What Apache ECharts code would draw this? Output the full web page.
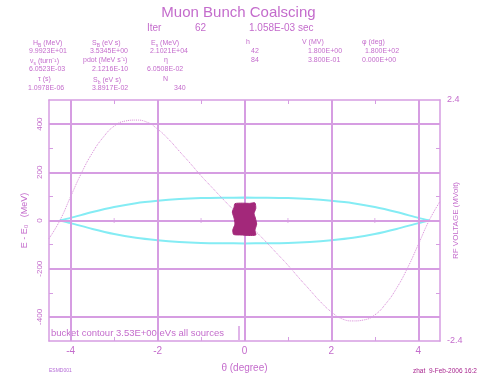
<!DOCTYPE html>
<html>
<head>
<meta charset="utf-8">
<script src="https://cdn.jsdelivr.net/npm/echarts@6/dist/echarts.min.js"></script>
<style>
  html, body { margin: 0; padding: 0; background: #fff; }
  #chart { width: 477px; height: 381px; }
</style>
</head>
<body>
<div id="chart"></div>
<script>
// RF voltage (MV), theta in degrees
var rfTheta = [-4.5, -4.25, -4, -3.75, -3.5, -3.25, -3, -2.75, -2.5, -2.25, -2, -1.75, -1.5, -1.25, -1, -0.75, -0.5, -0.25,
               0, 0.25, 0.5, 0.75, 1, 1.25, 1.5, 1.75, 2, 2.25, 2.5, 2.75, 3, 3.25, 3.5, 3.75, 4, 4.25, 4.5];
var rfVolt = [-0.36, 0, 0.48, 0.95, 1.35, 1.66, 1.88, 1.98, 2.0, 1.96, 1.82, 1.62, 1.38, 1.14, 0.89, 0.66, 0.43, 0.21,
              0, -0.21, -0.43, -0.66, -0.89, -1.14, -1.38, -1.62, -1.82, -1.96, -2.0, -1.98, -1.88, -1.66, -1.35, -0.95, -0.48, 0, 0.38];

// bucket contour (MeV)
var bucketTheta = [-4.25, -4, -3.5, -3, -2.5, -2, -1.5, -1, -0.5, 0, 0.5, 1, 1.5, 2, 2.5, 3, 3.5, 4, 4.25];
var bucketUpper = [0, 11, 35, 56, 72, 82, 89, 93, 94.5, 95, 94.5, 93, 89, 82, 72, 56, 35, 11, 0];
var bucketLower = [0, -11, -35, -56, -72, -82, -89, -93, -94.5, -95, -94.5, -93, -89, -82, -72, -56, -35, -11, 0];

// bunch outline
var bunchTheta = [-0.22, -0.05, 0.12, 0.24, 0.26, 0.22, 0.25, 0.28, 0.24, 0.26, 0.1, -0.08, -0.25, -0.27, -0.22, -0.24, -0.28, -0.24];
var bunchE = [70, 72, 71, 73, 50, 30, 10, -15, -40, -60, -62, -60, -58, -40, -15, 10, 35, 55];

// ticks
var xLabels = [-4, -2, 0, 2, 4];
var xMinor = [-3, -1, 1, 3];
var yLabels = [-400, -200, 0, 200, 400];
var yMinor = [-300, -100, 100, 300];
var rfLabels = [-2.4, 2.4];
var rfMinor = [-1.44, -0.48, 0.48, 1.44];

var txt = '#c46ccc';
var gridCol = '#d69de2';
var font = 'Liberation Sans';

function pairs(xs, ys) {
    return xs.map(function (x, i) { return [x, ys[i]]; });
}

var header = [
    [33, 43, 'H{s|B} (MeV)'], [92, 43, 'S{s|B} (eV s)'], [151, 43, 'E{s|s} (MeV)'], [246, 43, 'h'], [302, 43, 'V (MV)'], [362, 43, 'φ (deg)'],
    [29, 52, '9.9923E+01'], [90, 52, '3.5345E+00'], [150, 52, '2.1021E+04'], [251, 52, '42'], [308, 52, '1.800E+00'], [365, 52, '1.800E+02'],
    [30, 61, 'ν{s|s} (turn⁻¹)'], [83, 61, 'pdot (MeV s⁻¹)'], [164, 61, 'η'], [251, 61, '84'], [308, 61, '3.800E-01'], [362, 61, '0.000E+00'],
    [29, 70, '6.0523E-03'], [92, 70, '2.1216E-10'], [147, 70, '6.0508E-02'],
    [38, 80, 'τ (s)'], [93, 80, 'S{s|b} (eV s)'], [163, 80, 'N'],
    [28, 89, '1.0978E-06'], [92, 89, '3.8917E-02'], [174, 89, '340']
];

var graphics = [
    { type: 'text', left: 'center', top: 5, style: { text: 'Muon Bunch Coalscing', fill: txt, font: '15px ' + font } },
    { type: 'text', x: 147, y: 23, style: { text: 'Iter', fill: txt, font: '10px ' + font } },
    { type: 'text', x: 195, y: 23, style: { text: '62', fill: txt, font: '10px ' + font } },
    { type: 'text', x: 249, y: 23, style: { text: '1.058E-03 sec', fill: txt, font: '10px ' + font } },
    { type: 'text', x: 51, y: 328, style: { text: 'bucket contour 3.53E+00 eVs all sources', fill: txt, font: '9.5px ' + font } },
    { type: 'line', shape: { x1: 239, y1: 326, x2: 239, y2: 340 }, style: { stroke: gridCol, lineWidth: 1.5 } },
    { type: 'text', x: 49, y: 368, style: { text: 'ESMD001', fill: '#b46ad6', font: '5px ' + font } },
    { type: 'text', x: 413, y: 368, style: { text: 'zhat  9-Feb-2006 16:21', fill: '#a8248e', font: '6.5px ' + font } }
];
header.forEach(function (h) {
    graphics.push({
        type: 'text', x: h[0], y: h[1] - 4,
        style: {
            text: h[2], fill: txt, font: '7px ' + font,
            rich: { s: { fontSize: 5, fill: txt, padding: [4, 0, 0, 0], fontFamily: font } }
        }
    });
});

var chart = echarts.init(document.getElementById('chart'));
chart.setOption({
    backgroundColor: '#fff',
    animation: false,
    textStyle: { fontFamily: font },
    grid: { left: 49, right: 37, top: 100, bottom: 40 },
    graphic: graphics,
    xAxis: [
        {
            type: 'value', min: -4.5, max: 4.5, position: 'bottom',
            axisLine: { onZero: false, lineStyle: { color: gridCol, width: 1.5 } },
            axisTick: { inside: true, length: 4, customValues: xMinor, lineStyle: { color: gridCol } },
            axisLabel: { customValues: xLabels, color: txt, fontSize: 10, margin: 5 },
            splitLine: { show: false },
            name: 'θ (degree)', nameLocation: 'middle', nameGap: 22, nameMoveOverlap: false,
            nameTextStyle: { color: txt, fontSize: 10 }
        },
        {
            type: 'value', min: -4.5, max: 4.5, position: 'top',
            axisLine: { onZero: false, lineStyle: { color: gridCol, width: 1.5 } },
            axisTick: { inside: true, length: 4, customValues: xMinor, lineStyle: { color: gridCol } },
            axisLabel: { show: false },
            splitLine: { show: false }
        }
    ],
    yAxis: [
        {
            type: 'value', min: -500, max: 500, position: 'left',
            axisLine: { onZero: false, lineStyle: { color: gridCol, width: 1.5 } },
            axisTick: { inside: true, length: 4, customValues: yMinor, lineStyle: { color: gridCol } },
            axisLabel: { customValues: yLabels, color: txt, fontSize: 8, rotate: 90, margin: 5 },
            splitLine: { show: false },
            name: 'E - E₀   (MeV)', nameLocation: 'middle', nameGap: 20, nameRotate: 90, nameMoveOverlap: false,
            nameTextStyle: { color: txt, fontSize: 9 }
        },
        {
            type: 'value', min: -2.4, max: 2.4, position: 'right',
            axisLine: { onZero: false, lineStyle: { color: gridCol, width: 1.5 } },
            axisTick: { inside: true, length: 4, customValues: rfMinor, lineStyle: { color: gridCol } },
            axisLabel: { customValues: rfLabels, color: txt, fontSize: 9, margin: 7 },
            splitLine: { show: false },
            name: 'RF VOLTAGE (MVolt)', nameLocation: 'middle', nameGap: 12, nameRotate: 90, nameMoveOverlap: false,
            nameTextStyle: { color: txt, fontSize: 8 }
        }
    ],
    series: [
        {
            type: 'line', xAxisIndex: 0, yAxisIndex: 0, data: [], z: 1, silent: true,
            markLine: {
                silent: true, symbol: 'none', animation: false,
                label: { show: false },
                lineStyle: { color: gridCol, width: 2, type: 'solid' },
                data: xLabels.map(function (v) { return { xAxis: v }; })
                    .concat(yLabels.map(function (v) { return { yAxis: v }; }))
            }
        },
        {
            type: 'scatter', xAxisIndex: 0, yAxisIndex: 0, z: 2, silent: true,
            symbol: 'rect', symbolSize: [1, 5],
            itemStyle: { color: gridCol },
            data: xMinor.map(function (v) { return [v, 0]; })
        },
        {
            type: 'line', name: 'bucket upper', xAxisIndex: 0, yAxisIndex: 0, z: 3,
            data: pairs(bucketTheta, bucketUpper), smooth: 0.3, symbol: 'none',
            lineStyle: { color: '#84ecf4', width: 2 }
        },
        {
            type: 'line', name: 'bucket lower', xAxisIndex: 0, yAxisIndex: 0, z: 3,
            data: pairs(bucketTheta, bucketLower), smooth: 0.3, symbol: 'none',
            lineStyle: { color: '#84ecf4', width: 2 }
        },
        {
            type: 'line', name: 'RF voltage', xAxisIndex: 0, yAxisIndex: 1, z: 4,
            data: pairs(rfTheta, rfVolt), smooth: true, symbol: 'none',
            lineStyle: { color: '#d88ad8', width: 1, type: 'dotted' }
        },
        {
            type: 'custom', name: 'bunch', xAxisIndex: 0, yAxisIndex: 0, z: 5,
            data: [[0, 0]],
            renderItem: function (params, api) {
                var pts = bunchTheta.map(function (t, i) { return api.coord([t, bunchE[i]]); });
                return {
                    type: 'polygon',
                    shape: { points: pts, smooth: 0.2 },
                    style: { fill: '#a3287a', stroke: '#a3287a', lineWidth: 1 }
                };
            }
        }
    ]
});
</script>
</body>
</html>
